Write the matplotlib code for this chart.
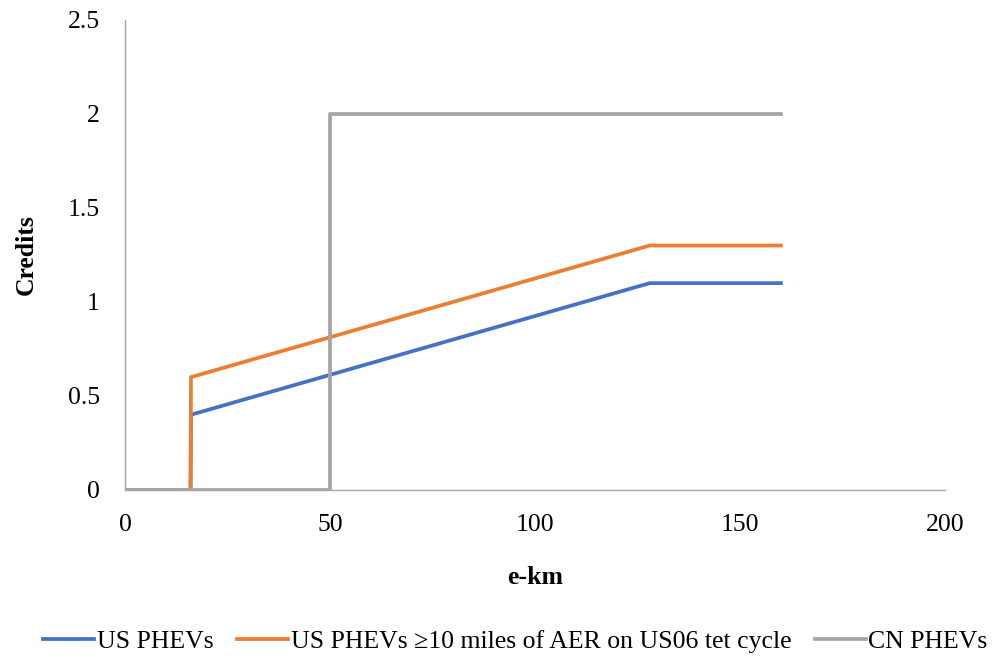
import numpy as np
import matplotlib.pyplot as plt

# e-km vs credits
x_us = [0, 16, 16.1, 128, 160]
y_us = [0, 0, 0.4, 1.1, 1.1]
y_us_aer = [0, 0, 0.6, 1.3, 1.3]
x_cn = [0, 50, 50, 160]
y_cn = [0, 0, 2, 2]

plt.rcParams['font.family'] = ['Liberation Serif', 'DejaVu Serif']

fig = plt.figure(figsize=(9.95, 6.63), dpi=100)
ax = fig.add_axes([0.1256, 0.261, 0.824, 0.709])

ax.plot(x_us, y_us, color="#4472C4", lw=2.7, label="US PHEVs")
ax.plot(x_us, y_us_aer, color="#ED7D31", lw=2.7,
        label="US PHEVs \u226510 miles of AER on US06 tet cycle")
ax.plot(x_cn, y_cn, color="#A5A5A5", lw=2.7, label="CN PHEVs")

ax.set_xlim(0, 200)
ax.set_ylim(0, 2.5)
ax.set_xticks([0, 50, 100, 150, 200])
ax.set_yticks([0, 0.5, 1, 1.5, 2, 2.5])
ax.set_yticklabels(["0", "0.5", "1", "1.5", "2", "2.5"])
ax.tick_params(length=0, labelsize=18.5)
ax.tick_params(axis="x", pad=17)
ax.tick_params(axis="y", pad=18)

for s in ["top", "right"]:
    ax.spines[s].set_visible(False)
for s in ["left", "bottom"]:
    ax.spines[s].set_color("#A6A6A6")
    ax.spines[s].set_linewidth(1)

ax.set_xlabel("e-km", fontsize=18.5, fontweight="bold", labelpad=22)
ax.set_ylabel("Credits", fontsize=18.5, fontweight="bold", labelpad=22)

fig.legend(loc="center", bbox_to_anchor=(0.518, 0.032), ncol=3, frameon=False,
           fontsize=18.5, handlelength=2.0, handletextpad=0.1, columnspacing=0.9)

fig.savefig("out.png", dpi=100)
